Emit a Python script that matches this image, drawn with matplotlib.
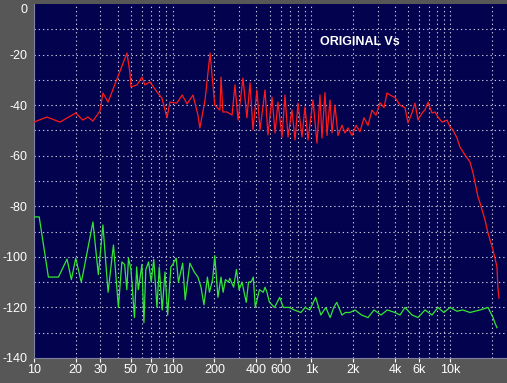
import matplotlib
matplotlib.use("Agg")
import matplotlib.pyplot as plt
from matplotlib.ticker import FixedLocator, NullFormatter

# Red trace: frequency (Hz) and level (dB)
red_freq = [10, 12.4, 15.4, 20, 22.5, 24.5, 26.6, 29.9, 31.4, 34.2, 46.8, 49.2, 50,
            55.3, 60, 63, 68.5, 77, 83.6, 91, 95.5, 107, 117, 127, 140, 152, 157, 171,
            186, 201, 219, 223, 230, 246, 268, 281, 296, 321, 343, 361, 379, 405, 426,
            463, 486, 520, 547, 574, 614, 645, 678, 724, 762, 801, 855, 899, 945, 1027,
            1097, 1153, 1192, 1253, 1296, 1362, 1408, 1479, 1555, 1662, 1746, 1836, 1963,
            2097, 2240, 2394, 2558, 2735, 2923, 3124, 3338, 3508, 3687, 4006, 4353, 4728,
            4971, 5313, 5585, 5869, 6067, 6377, 6592, 6929, 7405, 7785, 8180, 8743, 9497,
            9984, 10490, 11210, 11790, 12810, 13920, 14630, 15890, 16430, 17850, 18770,
            20390, 21780, 22100, 22500]
red_db = [-46.7, -44.7, -46.7, -43.1, -45.9, -44.7, -46.3, -42.3, -35.2, -38.8, -19.4, -27.3, -32.8,
          -32.0, -28.9, -32.0, -30.8, -34.8, -37.2, -45.0, -38.8, -39.2, -36.0, -39.5, -36.0, -43.9, -49.0, -38.0,
          -19.4, -40.0, -42.0, -28.9, -42.7, -42.7, -43.9, -32.0, -45.9, -29.3, -45.0, -31.2, -49.8, -34.0, -49.8,
          -34.0, -51.8, -36.8, -51.0, -38.8, -52.6, -36.0, -52.6, -41.9, -53.8, -39.2, -52.6, -40.7, -53.8, -38.0,
          -55.0, -36.0, -53.0, -35.0, -52.0, -38.0, -51.0, -40.0, -52.0, -48.0, -51.0, -49.0, -52.0,
          -48.0, -50.5, -45.0, -48.0, -42.0, -44.0, -39.0, -41.0, -35.2, -36.0, -37.0, -40.0, -41.0,
          -47.0, -43.0, -39.2, -45.9, -44.5, -42.7, -41.9, -38.8, -43.1, -42.7, -44.7, -46.7, -45.9,
          -48.6, -49.8, -53.0, -56.6, -59.7, -62.5, -66.8, -76.3, -78.7, -85.4, -90.6,
          -97.3, -104.0, -112.0, -116.3]

# Green trace: frequency (Hz) and level (dB)
green_freq = [10, 10.9, 12.7, 13.3, 15.0, 17.3, 18.6, 20, 21.9, 22.5, 26.6, 29.1, 31.4,
              34.2, 37.4, 40.6, 43.0, 45.0, 46.7, 48.0, 50, 53, 55, 56.5, 60, 62, 64, 67,
              70, 73, 77, 80, 84, 88, 92, 97, 100, 106, 110, 118, 123, 133, 143, 152, 160,
              168, 178, 184, 194, 201, 212, 223, 231, 240, 252, 258, 275, 288, 301, 316,
              339, 352, 369, 381, 394, 422, 450, 463, 478, 498, 542, 591, 627, 693, 751, 840,
              901, 973, 1073, 1170, 1270, 1365, 1450, 1523, 1660, 1760, 1900, 2060, 2300,
              2560, 2830, 3180, 3520, 4006, 4353, 4728, 5313, 5869, 6592, 7405, 8180,
              9010, 9984, 11210, 12340, 13920, 16430, 18770, 20390, 21000, 21780]
green_db = [-84.2, -84.2, -108.0, -108.0, -108.0, -100.9, -109.0, -100.5, -110.0, -107.0, -86.2, -107.0, -87.4,
            -114.0, -95.3, -120.0, -102.0, -103.0, -113.0, -100.5, -105.0, -124.0, -104.0, -113.0, -103.0, -126.0, -105.0, -102.0,
            -110.0, -101.0, -120.0, -104.0, -121.0, -106.0, -123.0, -104.0, -103.0, -100.5, -110.0, -102.5, -117.0, -102.5, -106.0,
            -108.0, -112.0, -119.0, -108.0, -114.0, -109.0, -99.5, -116.0, -108.0, -114.0, -109.0, -110.0, -108.5,
            -112.0, -105.0, -113.0, -110.0, -118.0, -110.0, -109.8, -108.0, -120.0, -113.0, -114.0, -112.0,
            -114.0, -117.9, -120.0, -116.0, -120.0, -120.0, -121.0, -122.0, -120.0, -121.0, -116.0, -123.0,
            -120.0, -124.0, -120.0, -118.0, -123.0, -122.0, -122.0, -121.0, -123.0, -124.0, -121.0, -123.0,
            -121.0, -122.0, -123.0, -120.0, -123.0, -124.0, -121.0, -123.0, -120.0, -122.0, -120.0, -121.5,
            -121.0, -122.0, -121.0, -120.0, -124.0, -126.0, -128.0]

x_tick_vals = [10, 20, 30, 50, 70, 100, 200, 400, 600, 1000, 2000, 4000, 6000, 10000]
x_tick_labels = ["10", "20", "30", "50", "70", "100", "200", "400", "600", "1k", "2k", "4k", "6k", "10k"]
y_tick_vals = [0, -20, -40, -60, -80, -100, -120, -140]
title_text = "ORIGINAL Vs"

W, H = 507, 383
fig = plt.figure(figsize=(W / 100, H / 100), dpi=100)
fig.patch.set_facecolor("#575757")
ax = fig.add_axes([34 / W, 1 - 358 / H, 1 - 34 / W, 354 / H])
ax.set_facecolor("#02024f")

ax.set_xscale("log")
ax.set_xlim(10, 25720)
ax.set_ylim(-140, 0)

# grid positions
minor_grid = [m * 10 ** e for e in range(1, 5) for m in range(1, 10) if m * 10 ** e <= 20000]
for v in minor_grid:
    ax.axvline(v, color="#c8c8d8", lw=0.8, ls=(0, (1.2, 2.6)), zorder=1)
for v in range(-130, 0, 10):
    ax.axhline(v, color="#c8c8d8", lw=0.8, ls=(0, (1.2, 2.6)), zorder=1)

ax.plot(red_freq, red_db, color="#ff1a1a", lw=0.9, zorder=3)
ax.plot(green_freq, green_db, color="#33e633", lw=0.9, zorder=3)

ax.xaxis.set_major_locator(FixedLocator(x_tick_vals))
ax.xaxis.set_minor_locator(FixedLocator([]))
ax.xaxis.set_minor_formatter(NullFormatter())
ax.set_xticklabels(x_tick_labels)
ax.set_yticks(y_tick_vals)
ax.set_yticklabels([str(v) for v in y_tick_vals])

ax.tick_params(axis="both", colors="white", labelcolor="white", labelsize=9,
               length=3, width=0.8, direction="out", pad=1)
ax.tick_params(axis="y", length=0, pad=5)
for lab in ax.get_xticklabels() + ax.get_yticklabels():
    lab.set_family("Liberation Sans")
ax.get_yticklabels()[0].set_va("top")

for s in ax.spines.values():
    s.set_visible(False)
ax.spines["left"].set_visible(True)
ax.spines["left"].set_color("#8080a0")
ax.spines["bottom"].set_visible(True)
ax.spines["bottom"].set_color("#8080a0")

ax.text(1150, -15, title_text, color="white", fontsize=9, fontweight="bold",
        family="Liberation Sans", va="center", ha="left", zorder=4)

fig.savefig("out.png", dpi=100, facecolor=fig.get_facecolor())
